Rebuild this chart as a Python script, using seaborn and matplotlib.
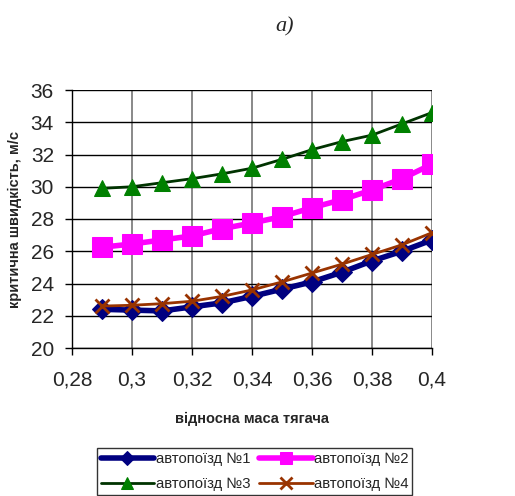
import matplotlib
matplotlib.use("Agg")
import matplotlib.pyplot as plt
import seaborn as sns
import pandas as pd

x_vals = [0.29, 0.30, 0.31, 0.32, 0.33, 0.34, 0.35, 0.36, 0.37, 0.38, 0.39, 0.40]
s1 = [22.4, 22.35, 22.3, 22.55, 22.8, 23.2, 23.65, 24.1, 24.7, 25.4, 26.0, 26.7]
s2 = [26.25, 26.45, 26.7, 26.95, 27.4, 27.75, 28.15, 28.7, 29.2, 29.8, 30.5, 31.4]
s3 = [29.9, 30.0, 30.25, 30.5, 30.8, 31.15, 31.7, 32.3, 32.8, 33.2, 33.9, 34.6]
s4 = [22.6, 22.65, 22.75, 22.9, 23.2, 23.6, 24.1, 24.65, 25.2, 25.8, 26.4, 27.15]
names = ["автопоїзд №1", "автопоїзд №2", "автопоїзд №3", "автопоїзд №4"]
x_ticks = [0.28, 0.30, 0.32, 0.34, 0.36, 0.38, 0.40]
x_tick_labels = ["0,28", "0,3", "0,32", "0,34", "0,36", "0,38", "0,4"]
y_ticks = [20, 22, 24, 26, 28, 30, 32, 34, 36]

sns.set_theme(style="white")
plt.rcParams['font.family'] = ['Liberation Sans', 'DejaVu Sans']

fig = plt.figure(figsize=(5.15, 4.96), dpi=100)
ax = fig.add_axes([72/515, 1-348/496, 360/515, 258/496])

styles = [
    dict(color="#000080", lw=4, marker="D", ms=10, mfc="#000080", mec="#000080"),
    dict(color="#FF00FF", lw=4, marker="s", ms=14, mfc="#FF00FF", mec="#FF00FF"),
    dict(color="#003300", lw=2, marker="^", ms=12, mfc="#008000", mec="#008000"),
    dict(color="#993300", lw=2, marker="x", ms=10, mew=2, mfc="#993300", mec="#993300"),
]
for vals, name, st in zip([s1, s2, s3, s4], names, styles):
    df = pd.DataFrame({"x": x_vals, "y": vals})
    sns.lineplot(data=df, x="x", y="y", ax=ax, label=name, **st)

ax.set_xlim(0.28, 0.40)
ax.set_ylim(20, 36)
ax.set_xticks(x_ticks)
ax.set_xticklabels(x_tick_labels, fontsize=15)
ax.set_yticks(y_ticks)
ax.set_yticklabels([str(v) for v in y_ticks], fontsize=15)
ax.xaxis.grid(True, color="#808080", lw=1.3)
ax.yaxis.grid(True, color="black", lw=1)
ax.set_axisbelow(True)
for side in ["top", "right"]:
    ax.spines[side].set_visible(False)
for side in ["left", "bottom"]:
    ax.spines[side].set_color("black")
    ax.spines[side].set_linewidth(1)
ax.tick_params(axis="both", direction="out", length=5, width=1, color="black", bottom=True, left=True)
ax.tick_params(axis="x", pad=11)
ax.tick_params(axis="y", pad=8)
ax.set_xlabel("відносна маса тягача", fontsize=10.5, fontweight="bold", labelpad=16)
ax.set_ylabel("критична швидкість, м/с", fontsize=10.5, fontweight="bold", labelpad=6)

ax.get_legend().remove()
h, l = ax.get_legend_handles_labels()
order = [0, 2, 1, 3]
leg = fig.legend([h[i] for i in order], [l[i] for i in order], loc="upper left",
                 bbox_to_anchor=(97/515, 1-448/496), ncol=2, fontsize=10.7,
                 frameon=True, fancybox=False, edgecolor="black", handlelength=3.6,
                 columnspacing=0.6, handletextpad=0.1, borderpad=0.25, labelspacing=0.75,
                 borderaxespad=0)
leg.get_frame().set_linewidth(1)
leg_ms = {0: 7, 2: 9, 1: 9, 3: 8}
for hdl, i in zip(leg.legend_handles, order):
    hdl.set_markersize(leg_ms[i])

fig.text(285/515, 1-27/496, "а)", fontsize=16, style="italic", family="Liberation Serif", ha="center", va="center")

fig.savefig("out.png", dpi=100)
